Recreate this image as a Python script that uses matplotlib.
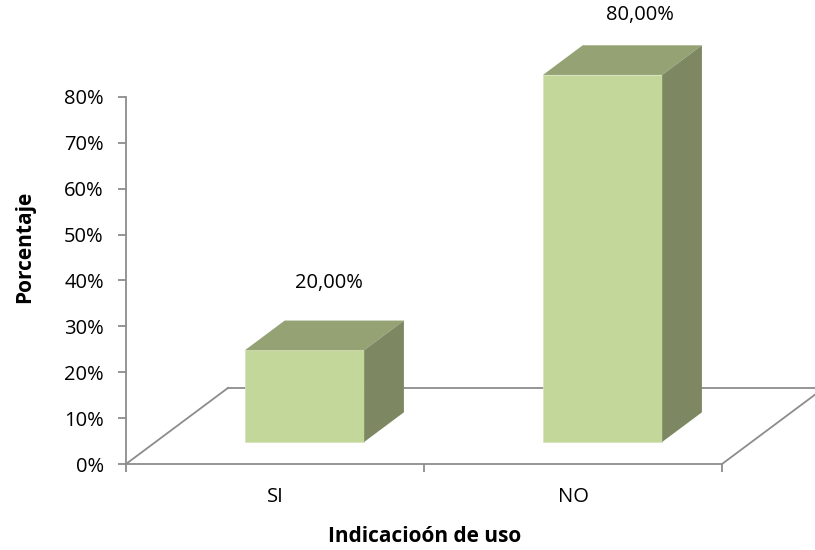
import matplotlib
matplotlib.use("Agg")
import matplotlib.pyplot as plt
from matplotlib.patches import Polygon
import numpy as np

categories = ["SI", "NO"]
values = [0.20, 0.80]
value_labels = ["20,00%", "80,00%"]
yticks = [0.0, 0.1, 0.2, 0.3, 0.4, 0.5, 0.6, 0.7, 0.8]
ytick_labels = ["0%", "10%", "20%", "30%", "40%", "50%", "60%", "70%", "80%"]
xlabel = "Indicacioón de uso"
ylabel = "Porcentaje"

plt.rcParams['font.family'] = ['Open Sans', 'DejaVu Sans']
FS = 14.5

W, H = 815, 550
fig = plt.figure(figsize=(W / 100, H / 100), dpi=100)
ax = fig.add_axes([126 / W, 86 / H, 689 / W, 464 / H])
ax.set_xlim(-0.5, 1.812)
ax.set_ylim(0, 1.0114)

front_c = "#C4D79B"
top_c = "#94A274"
side_c = "#7D8862"
axis_c = "#8C8C8C"

# depth vector of the floor (data units)
DX, DY = 0.342, 0.1657
f0, f1 = 0.29, 0.68
ox, oy = f0 * DX, f0 * DY
bdx, bdy = (f1 - f0) * DX, (f1 - f0) * DY
w = 0.4

# floor
xs0, xs1 = -0.5, 1.5
ax.plot([xs0, xs1], [0, 0], color=axis_c, lw=1.3, zorder=1, clip_on=False)
ax.plot([xs0, xs0 + DX], [0, DY], color=axis_c, lw=1.3, zorder=1, clip_on=False)
ax.plot([xs0 + DX, xs1 + DX], [DY, DY], color=axis_c, lw=1.3, zorder=1, clip_on=False)
ax.plot([xs1, xs1 + DX], [0, DY], color=axis_c, lw=1.3, zorder=1, clip_on=False)

x = np.arange(len(categories))
ax.bar(x + ox, values, width=w, bottom=oy, color=front_c, edgecolor="#D6E3BC",
       linewidth=0.6, zorder=3)
label_dy = [0.082, 0.066]
label_dx = [0.015, 0.06]
for xi, v, lab, ldy, ldx in zip(x, values, value_labels, label_dy, label_dx):
    l, r = xi + ox - w / 2, xi + ox + w / 2
    t = v + oy
    top = Polygon([(l, t), (r, t), (r + bdx, t + bdy), (l + bdx, t + bdy)],
                  closed=True, facecolor=top_c, edgecolor="none", zorder=3, clip_on=False)
    side = Polygon([(r, oy), (r + bdx, oy + bdy), (r + bdx, t + bdy), (r, t)],
                   closed=True, facecolor=side_c, edgecolor="none", zorder=3, clip_on=False)
    ax.add_patch(top)
    ax.add_patch(side)
    ax.text(xi + ox + bdx / 2 + ldx, t + bdy + ldy, lab, ha="center", va="center",
            fontsize=FS, color="black", clip_on=False)

# axes styling
for s in ["top", "right", "bottom"]:
    ax.spines[s].set_visible(False)
ax.spines["left"].set_bounds(0, 0.8)
ax.spines["left"].set_color(axis_c)
ax.spines["left"].set_linewidth(1.3)
ax.spines["left"].set_position(("data", -0.5))
ax.set_yticks(yticks)
ax.set_yticklabels(ytick_labels, fontsize=FS)
ax.tick_params(axis="y", length=6, width=1.3, color=axis_c, pad=10)

ax.set_xticks([-0.5, 0.5, 1.5])
ax.set_xticklabels(["", "", ""])
ax.tick_params(axis="x", length=6, width=1.3, color=axis_c)
for xi, c in zip(x, categories):
    ax.text(xi, -0.072, c, ha="center", va="center", fontsize=FS, clip_on=False)

fig.text(425 / W, 1 - 537 / H, xlabel, ha="center", va="center", fontsize=FS + 0.5, fontweight="bold")
fig.text(25 / W, 1 - 247 / H, ylabel, ha="center", va="center", fontsize=FS + 0.5,
         fontweight="bold", rotation=90)

fig.savefig("out.png", dpi=100)
